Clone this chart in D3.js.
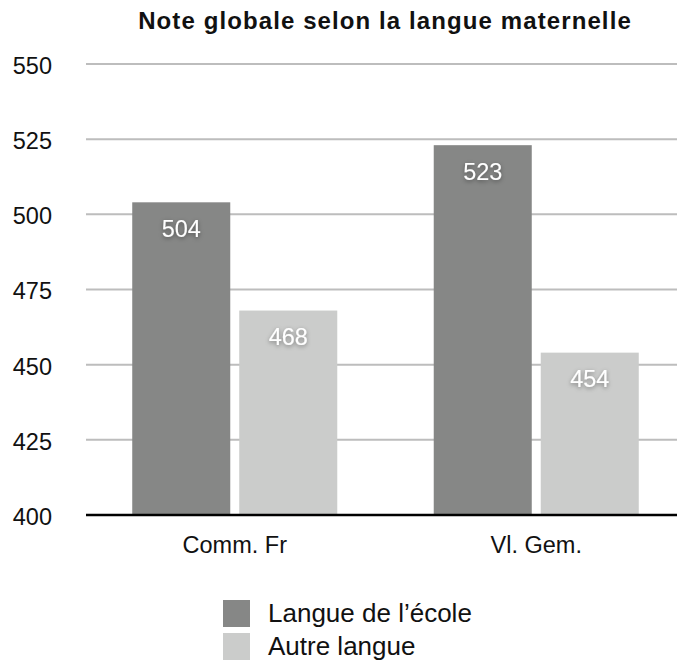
<!DOCTYPE html>
<html>
<head>
<meta charset="utf-8">
<script src="https://cdn.jsdelivr.net/npm/d3@7"></script>
<style>
  html, body { margin: 0; padding: 0; background: #fff; }
  svg { display: block; font-family: "Liberation Sans", Arial, Helvetica, sans-serif; }
</style>
</head>
<body>
<svg id="chart" width="677" height="663"></svg>
<script>
const title = "Note globale selon la langue maternelle";
const categories = ["Comm. Fr", "Vl. Gem."];
const seriesNames = ["Langue de l\u2019école", "Autre langue"];
const langueEcole = [504, 523];
const autreLangue = [468, 454];
const yTicks = [400, 425, 450, 475, 500, 525, 550];
const colors = ["#868786", "#cbcccb"];

(function () {
const seriesValues = [langueEcole, autreLangue];
const data = categories.map((c, i) => ({
  cat: c,
  vals: seriesNames.map((s, j) => ({ series: s, idx: j, value: seriesValues[j][i] }))
}));

const svg = d3.select("#chart");
const pLeft = 86, pRight = 677, pTop = 64, pBottom = 515;

const y = d3.scaleLinear().domain([400, 550]).range([pBottom, pTop]);
const x0 = d3.scaleBand().domain(categories).range([84, 687]).paddingInner(0.32).paddingOuter(0.16);
const x1 = d3.scaleBand().domain(seriesNames).range([0, x0.bandwidth()]).paddingInner(0.084);

const defs = svg.append("defs");
const f = defs.append("filter").attr("id", "shadow").attr("x", "-50%").attr("y", "-50%").attr("width", "200%").attr("height", "200%");
f.append("feDropShadow").attr("dx", 0).attr("dy", 1.5).attr("stdDeviation", 2).attr("flood-color", "#000").attr("flood-opacity", 0.4);

// title
svg.append("text").attr("x", 385).attr("y", 29).attr("text-anchor", "middle")
  .attr("font-size", 24).attr("font-weight", "bold").attr("letter-spacing", 1.1).attr("fill", "#111").text(title);

// gridlines + y labels
svg.append("g").selectAll("line").data(yTicks.filter(t => t !== 400)).join("line")
  .attr("x1", pLeft).attr("x2", pRight).attr("y1", d => y(d)).attr("y2", d => y(d))
  .attr("stroke", "#bdbdbd").attr("stroke-width", 2);
const yAxis = d3.axisLeft(y).tickValues(yTicks).tickSize(0).tickPadding(0);
const ya = svg.append("g").attr("transform", "translate(52,0)").call(yAxis);
ya.select(".domain").remove();
ya.selectAll("text").attr("font-size", 23.5).attr("fill", "#111").attr("font-family", "Liberation Sans, Arial, sans-serif").attr("dy", "0.4em");

// bars
const groups = svg.append("g").selectAll("g").data(data).join("g")
  .attr("transform", d => `translate(${x0(d.cat)},0)`);
groups.selectAll("rect").data(d => d.vals).join("rect")
  .attr("x", d => x1(d.series)).attr("width", x1.bandwidth())
  .attr("y", d => y(d.value)).attr("height", d => y(400) - y(d.value))
  .attr("fill", d => colors[d.idx]);
groups.selectAll("text").data(d => d.vals).join("text")
  .attr("x", d => x1(d.series) + x1.bandwidth() / 2)
  .attr("y", d => y(d.value) + 26)
  .attr("dy", "0.36em")
  .attr("text-anchor", "middle").attr("font-size", 23.5).attr("fill", "#fff")
  .attr("filter", "url(#shadow)")
  .text(d => d.value);

// baseline
svg.append("line").attr("x1", pLeft).attr("x2", pRight).attr("y1", y(400)).attr("y2", y(400))
  .attr("stroke", "#000").attr("stroke-width", 2.5);

// x axis labels
const xAxis = d3.axisBottom(x0).tickSize(0).tickPadding(0);
const xa = svg.append("g").attr("transform", `translate(0,${y(400)})`).call(xAxis);
xa.select(".domain").remove();
xa.selectAll("text").attr("font-size", 23.5).attr("fill", "#111").attr("font-family", "Liberation Sans, Arial, sans-serif")
  .attr("dy", 0).attr("y", 38);

// legend
const lg = svg.append("g").attr("transform", "translate(223,600)");
const li = lg.selectAll("g").data(seriesNames).join("g").attr("transform", (d, i) => `translate(0,${i * 33})`);
li.append("rect").attr("width", 27).attr("height", 27).attr("fill", (d, i) => colors[i]);
li.append("text").attr("x", 45).attr("y", 22).attr("font-size", 26).attr("fill", "#111").text(d => d);
})();
</script>
</body>
</html>
